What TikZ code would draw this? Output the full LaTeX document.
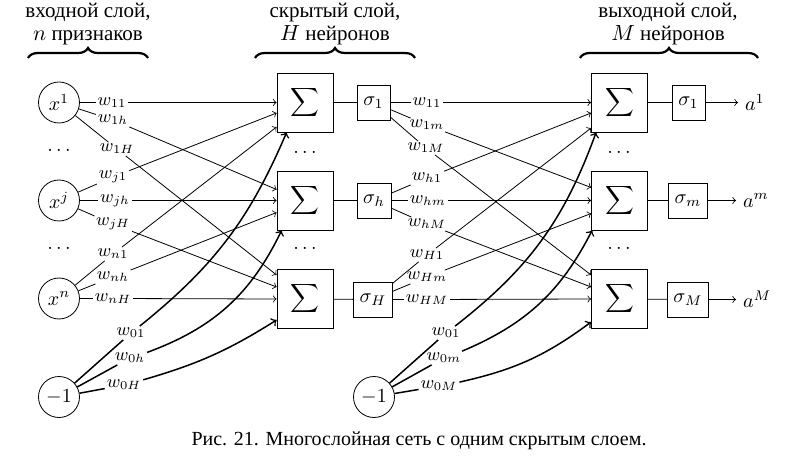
\documentclass[tikz,border=0pt]{standalone}
\usepackage{fontspec}
\newfontfamily\cyr{Liberation Serif}
\usetikzlibrary{decorations.pathreplacing}
\begin{document}
\begin{tikzpicture}[x=0.5pt,y=-0.5pt,
  neuron/.style={draw,circle,minimum size=20.5pt,inner sep=0pt},
  sumbox/.style={draw,minimum width=28pt,minimum height=29.5pt,inner sep=0pt,font=\fontsize{13}{15}\selectfont},
  actbox/.style={draw,minimum height=17.5pt,minimum width=16.5pt,inner sep=3pt},
  wlbl/.style={inner sep=0.8pt,font=\small},
  wire/.style={line width=0.4pt},
  arr/.style={wire,->},
  biasw/.style={line width=0.75pt},
  biasarr/.style={biasw,->},
  layerbrace/.style={decorate,decoration={brace,amplitude=5pt},line width=1.1pt},
  header/.style={align=center,font=\cyr\fontsize{10.5}{11.5}\selectfont}
]
\useasboundingbox (0,0) rectangle (785,464);

% ---------- layer headings ----------
\node[header] (hin)  at (88,24)  {входной слой,\\$n$ признаков};
\node[header] (hhid) at (335,24) {скрытый слой,\\$H$ нейронов};
\node[header] (hout) at (668,24) {выходной слой,\\$M$ нейронов};
\draw[layerbrace] (28,58) -- (148,58);
\draw[layerbrace] (255,58) -- (415,58);
\draw[layerbrace] (580,58) -- (758,58);

% ---------- input layer ----------
\node[neuron] (x1) at (59,102.5) {$x^1$};
\node[neuron] (xj) at (59,200.5) {$x^j$};
\node[neuron] (xn) at (59,298.5) {$x^n$};
\node[neuron] (b0) at (59,397) {$-1$};
\node (d1) at (59,150) {$\ldots$};
\node (d2) at (59,248) {$\ldots$};

% ---------- hidden layer ----------
\node[sumbox] (s1) at (305,102.5) {$\displaystyle\sum$};
\node[sumbox] (sh) at (305,200.5) {$\displaystyle\sum$};
\node[sumbox] (sH) at (305,299)   {$\displaystyle\sum$};
\node (d3) at (305,152) {$\ldots$};
\node (d4) at (305,248) {$\ldots$};
\node[actbox] (g1) at (373.5,102.5) {$\sigma_1$};
\node[actbox] (gh) at (374,200.5)   {$\sigma_h$};
\node[actbox] (gH) at (373,299.5)   {$\sigma_H$};
\node[neuron] (b1) at (374,397) {$-1$};

% ---------- output layer ----------
\node[sumbox] (o1) at (619.5,102.5) {$\displaystyle\sum$};
\node[sumbox] (om) at (619.5,200.5) {$\displaystyle\sum$};
\node[sumbox] (oM) at (619.5,299)   {$\displaystyle\sum$};
\node (d5) at (619,152) {$\ldots$};
\node (d6) at (619,248) {$\ldots$};
\node[actbox] (p1) at (688.5,102.5) {$\sigma_1$};
\node[actbox] (pm) at (688,200.5)   {$\sigma_m$};
\node[actbox] (pM) at (688,299.5)   {$\sigma_M$};
\node[anchor=west] (a1) at (738,102.5) {$a^1$};
\node[anchor=west] (am) at (736,200.5) {$a^m$};
\node[anchor=west] (aM) at (736,299.5) {$a^M$};

% ---------- weights, input -> hidden ----------
\node[wlbl] (w11) at (112,102.5) {$w_{11}$};
\node[wlbl] (w1h) at (113,120) {$w_{1h}$};
\node[wlbl] (w1H) at (117,149) {$w_{1H}$};
\node[wlbl] (wj1) at (113,177) {$w_{j1}$};
\node[wlbl] (wjh) at (115,200.5) {$w_{jh}$};
\node[wlbl] (wjH) at (113,224) {$w_{jH}$};
\node[wlbl] (wn1) at (113,254) {$w_{n1}$};
\node[wlbl] (wnh) at (113,277) {$w_{nh}$};
\node[wlbl] (wnH) at (113,298.5) {$w_{nH}$};
\node[wlbl] (w01) at (131,333) {$w_{01}$};
\node[wlbl] (w0h) at (130,358) {$w_{0h}$};
\node[wlbl] (w0H) at (124,385) {$w_{0H}$};

\draw[wire] (x1) -- (w11); \draw[arr] (w11) -- (s1.west);
\draw[wire] (x1) -- (w1h); \draw[arr] (w1h) -- ([yshift=5.5pt]sh.west);
\draw[wire] (x1) -- (w1H); \draw[arr] (w1H) -- ([yshift=12pt]sH.west);
\draw[wire] (xj) -- (wj1); \draw[arr] (wj1) -- ([yshift=-5.25pt]s1.west);
\draw[wire] (xj) -- (wjh); \draw[arr] (wjh) -- (sh.west);
\draw[wire] (xj) -- (wjH); \draw[arr] (wjH) -- ([yshift=6pt]sH.west);
\draw[wire] (xn) -- (wn1); \draw[arr] (wn1) -- ([yshift=-12.25pt]s1.west);
\draw[wire] (xn) -- (wnh); \draw[arr] (wnh) -- ([yshift=-6pt]sh.west);
\draw[wire] (xn) -- (wnH); \draw[arr] (wnH) -- (sH.west);

\draw[biasw] (b0) -- (w01); \draw[biasarr] (w01) to[bend right=14] ([xshift=5pt]s1.south west);
\draw[biasw] (b0) -- (w0h); \draw[biasarr] (w0h) to[bend right=22] ([xshift=2.5pt]sh.south west);
\draw[biasw] (b0) -- (w0H); \draw[biasarr] (w0H) to[bend right=8] ([yshift=-10.5pt]sH.west);

% ---------- sums -> activations ----------
\draw[wire] (s1) -- (g1);
\draw[wire] (sh) -- (gh);
\draw[wire] (sH) -- (gH);
\draw[wire] (o1) -- (p1);
\draw[wire] (om) -- (pm);
\draw[wire] (oM) -- (pM);

% ---------- weights, hidden -> output ----------
\node[wlbl] (v11) at (427,102.5) {$w_{11}$};
\node[wlbl] (v1m) at (427,125) {$w_{1m}$};
\node[wlbl] (v1M) at (426,148) {$w_{1M}$};
\node[wlbl] (vh1) at (427,178) {$w_{h1}$};
\node[wlbl] (vhm) at (428,200.5) {$w_{hm}$};
\node[wlbl] (vhM) at (427,224) {$w_{hM}$};
\node[wlbl] (vH1) at (427,255) {$w_{H1}$};
\node[wlbl] (vHm) at (427,277) {$w_{Hm}$};
\node[wlbl] (vHM) at (427,299.5) {$w_{HM}$};
\node[wlbl] (v01) at (446,333) {$w_{01}$};
\node[wlbl] (v0m) at (444,358) {$w_{0m}$};
\node[wlbl] (v0M) at (439,386) {$w_{0M}$};

\draw[wire] (g1) -- (v11); \draw[arr] (v11) -- (o1.west);
\draw[wire] (g1) -- (v1m); \draw[arr] (v1m) -- ([yshift=6.5pt]om.west);
\draw[wire] (g1) -- (v1M); \draw[arr] (v1M) -- ([yshift=12pt]oM.west);
\draw[wire] (gh) -- (vh1); \draw[arr] (vh1) -- ([yshift=-5.25pt]o1.west);
\draw[wire] (gh) -- (vhm); \draw[arr] (vhm) -- (om.west);
\draw[wire] (gh) -- (vhM); \draw[arr] (vhM) -- ([yshift=6pt]oM.west);
\draw[wire] (gH) -- (vH1); \draw[arr] (vH1) -- ([yshift=-12.75pt]o1.west);
\draw[wire] (gH) -- (vHm); \draw[arr] (vHm) -- ([yshift=-6.5pt]om.west);
\draw[wire] (gH) -- (vHM); \draw[arr] (vHM) -- (oM.west);

\draw[biasw] (b1) -- (v01); \draw[biasarr] (v01) to[bend right=16] ([xshift=2.5pt]o1.south west);
\draw[biasw] (b1) -- (v0m); \draw[biasarr] (v0m) to[bend right=20] ([xshift=0.5pt]om.south west);
\draw[biasw] (b1) -- (v0M); \draw[biasarr] (v0M) to[bend right=12] ([yshift=-11.5pt]oM.west);

% ---------- outputs ----------
\draw[arr] (p1) -- (a1);
\draw[arr] (pm) -- (am);
\draw[arr] (pM) -- (aM);

% ---------- caption ----------
\node[font=\cyr\fontsize{10}{12}\selectfont] (cap) at (419,441)
  {Рис. 21. Многослойная сеть с одним скрытым слоем.};
\end{tikzpicture}
\end{document}
